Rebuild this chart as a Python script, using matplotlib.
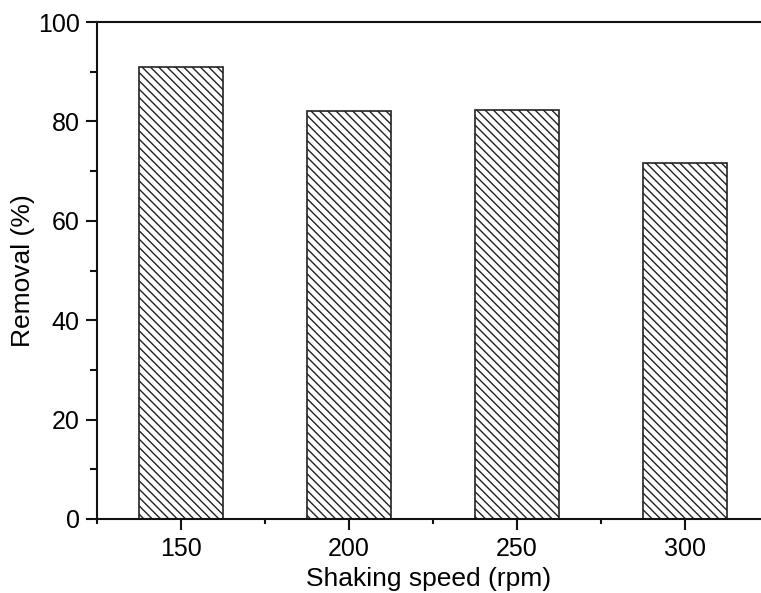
import numpy as np
import matplotlib.pyplot as plt
from matplotlib.ticker import MultipleLocator

speeds = [150, 200, 250, 300]
removal = [91.0, 82.2, 82.3, 71.6]

plt.rcParams['font.family'] = ['Liberation Sans', 'DejaVu Sans']
plt.rcParams['hatch.linewidth'] = 1.0
plt.rcParams['hatch.color'] = '#606060'


def main():
    fig = plt.figure(figsize=(7.61, 5.93), dpi=100)
    ax = fig.add_axes([0.1275, 0.1248, 0.8725, 0.838])

    ax.bar(speeds, removal, width=25, facecolor='white', edgecolor='#222222',
           linewidth=1.2, hatch='\\\\\\\\')

    ax.set_xlim(125, 322.6)
    ax.set_ylim(0, 100)
    ax.set_xticks(speeds)
    ax.xaxis.set_minor_locator(MultipleLocator(25))
    ax.yaxis.set_major_locator(MultipleLocator(20))
    ax.yaxis.set_minor_locator(MultipleLocator(10))

    ax.spines['right'].set_visible(False)
    for s in ['left', 'top', 'bottom']:
        ax.spines[s].set_linewidth(1.5)
        ax.spines[s].set_color('#111111')

    ax.tick_params(which='major', direction='out', length=8, width=1.5,
                   labelsize=18, color='#111111')
    ax.tick_params(axis='y', which='major', pad=4.5)
    ax.tick_params(axis='x', which='major', pad=5)
    ax.tick_params(which='minor', direction='out', length=5, width=1.5,
                   color='#111111')
    ax.tick_params(axis='x', which='minor', length=3.5)

    ax.set_ylabel('Removal (%)', fontsize=19, labelpad=2)
    ax.set_xlabel('Shaking speed (rpm)', fontsize=19, labelpad=4)

    fig.savefig('out.png', dpi=100)


if __name__ == '__main__':
    main()
